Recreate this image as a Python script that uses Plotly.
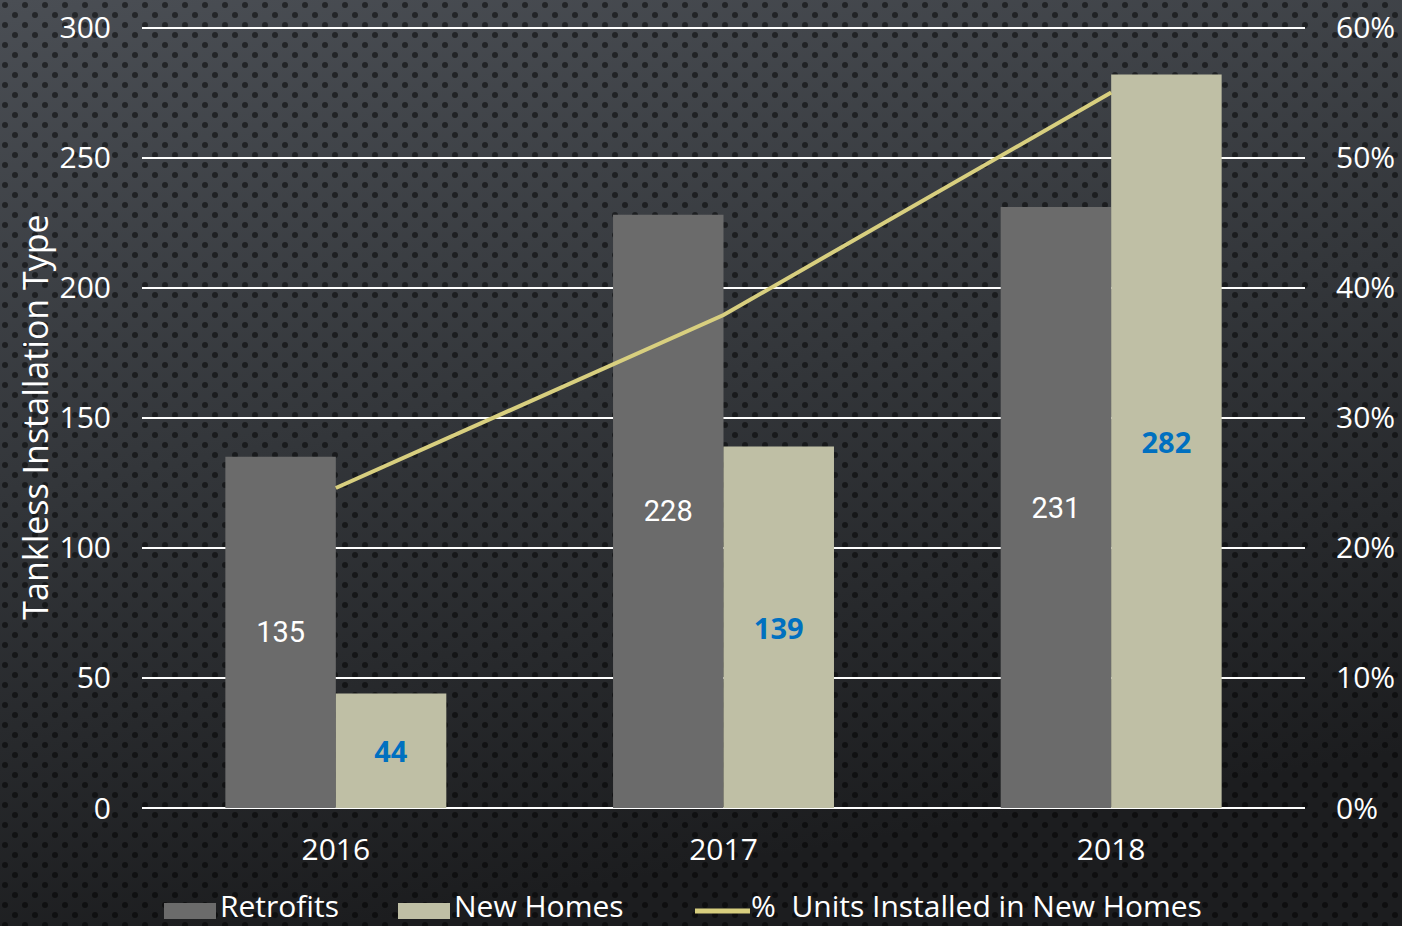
import base64
import plotly.graph_objects as go

years = ["2016", "2017", "2018"]
retrofits = [135, 228, 231]
new_homes = [44, 139, 282]
pct_new_homes = [0.246, 0.379, 0.550]
legend_names = ["Retrofits", "New Homes", "%  Units Installed in New Homes"]

# dark perforated-metal style background
svg = """<svg xmlns="http://www.w3.org/2000/svg" width="1402" height="926">
<defs>
<linearGradient id="g" x1="0" y1="0" x2="0.25" y2="1">
<stop offset="0" stop-color="#4a4e54"/><stop offset="0.5" stop-color="#33363a"/><stop offset="1" stop-color="#1c1d1f"/>
</linearGradient>
<pattern id="p" width="20" height="20" patternUnits="userSpaceOnUse">
<circle cx="5" cy="5" r="3" fill="#000" fill-opacity="0.5"/>
<circle cx="15" cy="15" r="3" fill="#000" fill-opacity="0.5"/>
</pattern>
</defs>
<rect width="1402" height="926" fill="url(#g)"/>
<rect width="1402" height="926" fill="url(#p)"/>
</svg>"""
bg = "data:image/svg+xml;base64," + base64.b64encode(svg.encode()).decode()

L, R, T, B = 142, 97, 26, 118
W, H = 1402, 926
pw, ph = W - L - R, H - T - B

FONT = "Open Sans"

fig = go.Figure()
fig.add_trace(go.Bar(
    x=years, y=retrofits, name=legend_names[0],
    marker=dict(color="#6b6b6b", line=dict(width=0)),
    text=retrofits, textposition="inside", insidetextanchor="middle",
    textfont=dict(family="Roboto", size=29, color="white"),
    textangle=0,
))
fig.add_trace(go.Bar(
    x=years, y=new_homes, name=legend_names[1],
    marker=dict(color="#bfbfa5", line=dict(width=0)),
    text=new_homes, textposition="inside", insidetextanchor="middle",
    textfont=dict(family="Open Sans", size=29, color="#0070c0", weight="bold"),
    textangle=0,
))
fig.add_trace(go.Scatter(
    x=years, y=pct_new_homes, name=legend_names[2],
    mode="lines", line=dict(color="#d8cf7f", width=4), yaxis="y2",
))

# legend drawn by hand so the swatches can be wide like the original
def px_x(x):
    return (x - L) / pw

def px_y(y):
    return (H - B - y) / ph

shapes = [
    dict(type="rect", xref="paper", yref="paper", x0=px_x(164), x1=px_x(216),
         y0=px_y(919), y1=px_y(903), fillcolor="#6b6b6b", line=dict(width=0)),
    dict(type="rect", xref="paper", yref="paper", x0=px_x(398), x1=px_x(450),
         y0=px_y(919), y1=px_y(903), fillcolor="#bfbfa5", line=dict(width=0)),
    dict(type="line", xref="paper", yref="paper", x0=px_x(695), x1=px_x(750),
         y0=px_y(911), y1=px_y(911), line=dict(color="#d8cf7f", width=5)),
]
annotations = [
    dict(text=name, xref="paper", yref="paper", x=px_x(x), y=px_y(905),
         xanchor="left", yanchor="middle", showarrow=False, borderpad=0,
         font=dict(family=FONT, size=30, color="white"))
    for name, x in zip(legend_names, [219, 453, 750])
]

tickfont = dict(family=FONT, size=30, color="white")
fig.update_layout(
    width=W, height=H,
    margin=dict(l=L, r=R, t=T, b=B, autoexpand=False),
    paper_bgcolor="#2b2d30", plot_bgcolor="rgba(0,0,0,0)",
    barmode="group", bargap=0.43, bargroupgap=0,
    images=[dict(source=bg, xref="paper", yref="paper",
                 x=-L / pw, y=1 + T / ph, sizex=W / pw, sizey=H / ph,
                 xanchor="left", yanchor="top", sizing="stretch", layer="below")],
    xaxis=dict(tickfont=tickfont, showgrid=False, showline=False,
               ticks="outside", ticklen=15, tickcolor="rgba(0,0,0,0)"),
    yaxis=dict(range=[0, 300.6], tickvals=[0, 50, 100, 150, 200, 250, 300],
               tickfont=tickfont, ticks="outside",
               ticklen=24, tickcolor="rgba(0,0,0,0)",
               gridcolor="white", gridwidth=2, zeroline=True, zerolinecolor="white",
               zerolinewidth=2, showline=False,
               title=dict(text="Tankless Installation Type", standoff=0,
                          font=dict(family=FONT, size=34, color="white"))),
    yaxis2=dict(range=[0, 0.6012], tickvals=[0, 0.1, 0.2, 0.3, 0.4, 0.5, 0.6],
                tickformat=".0%", overlaying="y",
                side="right", showgrid=False, zeroline=False, tickfont=tickfont,
                ticks="outside", ticklen=24, tickcolor="rgba(0,0,0,0)"),
    shapes=shapes,
    annotations=annotations,
    showlegend=False,
)

fig.write_html("out.html", config={"displayModeBar": False},
               post_script="document.body.style.margin='0';")
